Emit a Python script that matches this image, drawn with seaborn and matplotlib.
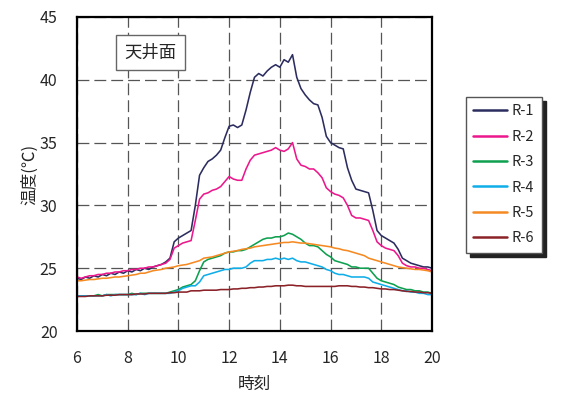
import numpy as np
import pandas as pd
import matplotlib
matplotlib.use("Agg")
import matplotlib.pyplot as plt
import seaborn as sns

# Time of day, 10-minute records from 6:00 to 20:00
hours = np.round(6 + np.arange(85) / 6, 4)

r1 = [24.2, 24.1, 24.3, 24.2, 24.4, 24.3, 24.5, 24.4, 24.6, 24.5, 24.7, 24.6, 24.8, 24.7, 24.9, 24.8, 25.0, 24.9, 25.1, 25.2, 25.3,
      25.5, 25.8, 27.1, 27.4, 27.6, 27.8, 28.0, 30.0, 32.4, 33.0, 33.5, 33.7, 34.0, 34.4, 35.4,
      36.3, 36.4, 36.2, 36.4, 37.6, 39.0, 40.2, 40.5, 40.3, 40.7, 41.0, 41.2, 41.0, 41.6, 41.4,
      42.0, 40.2, 39.3, 38.8, 38.4, 38.1, 38.0, 37.0, 35.5, 35.0, 34.8, 34.6, 34.5, 33.0, 32.0,
      31.3, 31.2, 31.1, 31.0, 29.6, 28.0, 27.6, 27.4, 27.2, 27.0, 26.5, 25.8, 25.6, 25.4, 25.3, 25.2, 25.1, 25.1, 25.0]
r2 = [24.3, 24.2, 24.3, 24.4, 24.4, 24.5, 24.5, 24.6, 24.6, 24.7, 24.7, 24.8, 24.8, 24.9, 24.9, 25.0, 25.0, 25.1, 25.1, 25.2, 25.3,
      25.4, 25.7, 26.6, 26.8, 27.0, 27.1, 27.2, 28.8, 30.5, 30.9, 31.0, 31.2, 31.3, 31.5, 31.9,
      32.3, 32.1, 32.0, 32.0, 32.9, 33.6, 34.0, 34.1, 34.2, 34.3, 34.4, 34.6, 34.4, 34.3, 34.5,
      35.0, 33.7, 33.2, 33.1, 32.9, 32.9, 32.6, 32.2, 31.4, 31.1, 30.9, 30.8, 30.6, 30.0, 29.2,
      29.0, 29.0, 28.9, 28.8, 28.0, 27.1, 26.8, 26.6, 26.5, 26.4, 26.0, 25.4, 25.2, 25.1, 25.1, 25.0, 25.0, 24.9, 24.8]
r3 = [22.8, 22.8, 22.8, 22.8, 22.8, 22.9, 22.8, 22.9, 22.9, 22.9, 22.9, 22.9, 22.9, 23.0, 22.9, 23.0, 23.0, 23.0, 23.0, 23.0, 23.0,
      23.0, 23.1, 23.2, 23.3, 23.5, 23.6, 23.7, 24.0, 24.8, 25.5, 25.7, 25.8, 25.9, 26.0, 26.2,
      26.3, 26.3, 26.4, 26.4, 26.5, 26.7, 26.9, 27.1, 27.3, 27.4, 27.4, 27.5, 27.5, 27.6, 27.8,
      27.7, 27.5, 27.3, 27.0, 26.8, 26.8, 26.7, 26.4, 26.1, 25.9, 25.6, 25.5, 25.4, 25.3, 25.1,
      25.1, 25.0, 25.0, 25.0, 24.6, 24.2, 24.0, 23.9, 23.8, 23.7, 23.5, 23.4, 23.3, 23.3, 23.2, 23.2, 23.1, 23.1, 23.0]
r4 = [22.8, 22.8, 22.8, 22.8, 22.8, 22.8, 22.8, 22.9, 22.8, 22.9, 22.9, 22.9, 22.9, 22.9, 22.9, 23.0, 22.9, 23.0, 23.0, 23.0, 23.0,
      23.0, 23.0, 23.1, 23.2, 23.4, 23.5, 23.6, 23.6, 23.9, 24.4, 24.5, 24.6, 24.7, 24.8, 24.9,
      24.9, 25.0, 25.0, 25.0, 25.1, 25.4, 25.6, 25.6, 25.6, 25.7, 25.7, 25.8, 25.7, 25.8, 25.7,
      25.8, 25.6, 25.5, 25.5, 25.4, 25.3, 25.2, 25.1, 24.9, 24.8, 24.6, 24.5, 24.5, 24.4, 24.3,
      24.3, 24.3, 24.3, 24.2, 23.9, 23.8, 23.7, 23.6, 23.5, 23.4, 23.3, 23.2, 23.2, 23.1, 23.1, 23.0, 23.0, 22.9, 22.9]
r5 = [24.0, 24.0, 24.05, 24.1, 24.1, 24.15, 24.2, 24.2, 24.25, 24.3, 24.3, 24.35, 24.4, 24.45, 24.5, 24.6, 24.6, 24.7, 24.8, 24.85, 24.9,
      25.0, 25.05, 25.1, 25.2, 25.25, 25.3, 25.4, 25.5, 25.6, 25.8, 25.85, 25.9, 26.0, 26.1, 26.2,
      26.3, 26.35, 26.4, 26.5, 26.55, 26.6, 26.7, 26.75, 26.8, 26.85, 26.9, 26.95, 27.0, 27.05, 27.05,
      27.1, 27.05, 27.0, 27.0, 26.95, 26.9, 26.85, 26.8, 26.75, 26.7, 26.6, 26.55, 26.45, 26.4, 26.3,
      26.2, 26.1, 26.0, 25.8, 25.7, 25.6, 25.5, 25.4, 25.3, 25.2, 25.1, 25.05, 25.0, 24.95, 24.9, 24.9, 24.85, 24.8, 24.7]
r6 = [22.75, 22.75, 22.75, 22.8, 22.8, 22.8, 22.8, 22.85, 22.85, 22.85, 22.9, 22.9, 22.9, 22.9, 22.95, 22.95, 22.95, 23.0, 23.0, 23.0, 23.0,
      23.0, 23.05, 23.05, 23.1, 23.1, 23.1, 23.2, 23.2, 23.2, 23.25, 23.25, 23.25, 23.25, 23.3, 23.3,
      23.3, 23.35, 23.35, 23.4, 23.4, 23.45, 23.45, 23.5, 23.5, 23.55, 23.55, 23.6, 23.6, 23.6, 23.65,
      23.65, 23.6, 23.6, 23.55, 23.55, 23.55, 23.55, 23.55, 23.55, 23.55, 23.55, 23.6, 23.6, 23.6, 23.55,
      23.55, 23.5, 23.5, 23.45, 23.45, 23.4, 23.35, 23.35, 23.3, 23.3, 23.25, 23.2, 23.15, 23.15, 23.1, 23.1, 23.05, 23.05, 23.0]

series_names = ["R-1", "R-2", "R-3", "R-4", "R-5", "R-6"]
series_values = [r1, r2, r3, r4, r5, r6]
colors = ["#2c2d5f", "#ec178c", "#0ea04f", "#10aee8", "#f58a23", "#8a2228"]
x_ticks = [6, 8, 10, 12, 14, 16, 18, 20]
y_ticks = [20, 25, 30, 35, 40, 45]

df = pd.concat(
    [pd.DataFrame({"時刻": hours, "温度": vals, "系列": name})
     for name, vals in zip(series_names, series_values)],
    ignore_index=True,
)

sns.set_style("white")
plt.rcParams["font.family"] = ["Noto Sans CJK JP", "DejaVu Sans"]

fig = plt.figure(figsize=(5.69, 3.95), dpi=100)
ax = fig.add_axes([0.1353, 0.162, 0.6239, 0.795])

sns.lineplot(data=df, x="時刻", y="温度", hue="系列", palette=colors,
             linewidth=1.15, ax=ax, legend=True)

ax.set_xlim(6, 20)
ax.set_ylim(20, 45)
ax.set_xticks(x_ticks)
ax.set_yticks(y_ticks)
ax.tick_params(axis="both", length=0, labelsize=11.5, pad=14)
ax.grid(True, color="#555555", linestyle=(0, (9.5, 4)), linewidth=0.9)
for sp in ax.spines.values():
    sp.set_color("black")
    sp.set_linewidth(1.6)

ax.set_xlabel("時刻", fontsize=12, labelpad=6)
ax.set_ylabel("温度(℃)", fontsize=12, labelpad=1)

ax.text(0.207, 0.887, "天井面", transform=ax.transAxes, fontsize=12.5,
        ha="center", va="center",
        bbox=dict(boxstyle="square,pad=0.5", facecolor="white",
                  edgecolor="#666666", linewidth=1.0))

handles, labels = ax.get_legend_handles_labels()
leg = ax.legend(handles, labels, loc="upper left",
                bbox_to_anchor=(0.819, 0.754), bbox_transform=fig.transFigure,
                frameon=True, fancybox=False, fontsize=10.5,
                handlelength=2.3, handletextpad=0.35, labelspacing=0.78,
                borderpad=0.5, borderaxespad=0,
                shadow={"color": "#222222", "alpha": 1.0, "ox": 3, "oy": -3})
leg.get_frame().set_edgecolor("#555555")
leg.get_frame().set_linewidth(1.0)
leg.get_frame().set_facecolor("white")
for line in leg.get_lines():
    line.set_linewidth(1.8)

fig.savefig("out.png", dpi=100)
